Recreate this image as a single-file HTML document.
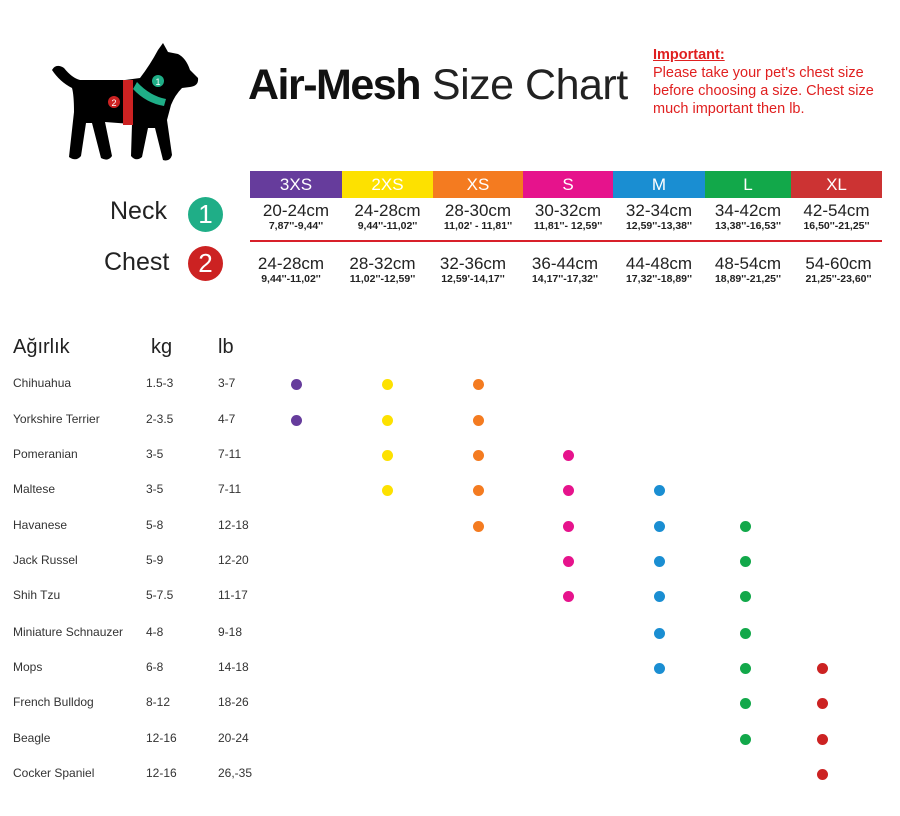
<!DOCTYPE html>
<html><head><meta charset="utf-8"><style>
body{margin:0;width:900px;height:816px;background:#fff;font-family:"Liberation Sans",sans-serif;position:relative;overflow:hidden}
.a{position:absolute;white-space:nowrap}
.h{position:absolute;top:171px;height:27px;color:#fff;font-size:17px;text-align:center;line-height:28px}
.c{position:absolute;text-align:center;color:#222}
.c b{display:block;font-size:17px;font-weight:normal;line-height:18px}
.c i{display:block;font-style:normal;font-weight:bold;font-size:10.5px;line-height:13px}
.r{position:absolute;font-size:12px;color:#333}
.d{position:absolute;width:11px;height:11px;border-radius:50%}
</style></head><body>
<svg class="a" style="left:40px;top:30px" width="170" height="140" viewBox="40 30 170 140">
<path d="M52 70 Q56 63 64 68 Q72 78 80 80 L125 80 L140 78 Q150 65 158 50 L163 43 L168 52 L178 54 Q186 58 190 70 L198 78 Q199 86 190 87 L182 88 Q175 95 171 105 L167 120 L172 155 Q170 162 163 160 L155 128 L148 128 L142 157 Q136 162 131 156 L132 124 L105 122 L112 156 Q108 162 101 158 L92 123 L86 123 L81 156 Q76 162 69 157 L74 112 Q74 95 72 88 Q60 82 52 70Z" fill="#000"/>
<path d="M137 82 Q150 96 166 99 L164 106 Q146 103 133 89Z" fill="#1fae87"/>
<circle cx="158" cy="81" r="6" fill="#1fae87"/><text x="158" y="85" font-size="9" fill="#fff" text-anchor="middle">1</text>
<rect x="123" y="80" width="10" height="45" fill="#cc2222"/>
<circle cx="114" cy="102" r="6" fill="#cc2222"/><text x="114" y="106" font-size="9" fill="#fff" text-anchor="middle">2</text>
</svg>
<div class="a" style="left:248px;top:61px;font-size:43px;color:#111"><span style="font-weight:bold;letter-spacing:-1.5px">Air-Mesh</span> <span style="color:#222;letter-spacing:-0.5px">Size Chart</span></div>
<div class="a" style="left:653px;top:46px;font-size:14.5px;color:#e02020;line-height:18px"><b style="text-decoration:underline">Important:</b><br>Please take your pet's chest size<br>before choosing a size. Chest size<br>much important then lb.</div>
<div class="h" style="left:250px;width:92px;background:#663c9c">3XS</div>
<div class="h" style="left:342px;width:91px;background:#fde100">2XS</div>
<div class="h" style="left:433px;width:90px;background:#f47b20">XS</div>
<div class="h" style="left:523px;width:90px;background:#e6138c">S</div>
<div class="h" style="left:613px;width:92px;background:#1a8ed2">M</div>
<div class="h" style="left:705px;width:86px;background:#12a84a">L</div>
<div class="h" style="left:791px;width:91px;background:#cc3333">XL</div>
<div class="a" style="left:250px;top:240px;width:632px;height:2px;background:#d8202a"></div>
<div class="a" style="left:110px;top:197px;font-size:25px;color:#222">Neck</div>
<div class="a" style="left:188px;top:197px;width:35px;height:35px;border-radius:50%;background:#1fae87;color:#fff;font-size:26px;text-align:center;line-height:35px">1</div>
<div class="a" style="left:104px;top:248px;font-size:25px;color:#222">Chest</div>
<div class="a" style="left:188px;top:246px;width:35px;height:35px;border-radius:50%;background:#cc2222;color:#fff;font-size:26px;text-align:center;line-height:35px">2</div>
<div class="c" style="left:250px;top:202px;width:92px"><b>20-24cm</b><i>7,87''-9,44''</i></div>
<div class="c" style="left:342px;top:202px;width:91px"><b>24-28cm</b><i>9,44''-11,02''</i></div>
<div class="c" style="left:433px;top:202px;width:90px"><b>28-30cm</b><i>11,02' - 11,81''</i></div>
<div class="c" style="left:523px;top:202px;width:90px"><b>30-32cm</b><i>11,81''- 12,59''</i></div>
<div class="c" style="left:613px;top:202px;width:92px"><b>32-34cm</b><i>12,59''-13,38''</i></div>
<div class="c" style="left:705px;top:202px;width:86px"><b>34-42cm</b><i>13,38''-16,53''</i></div>
<div class="c" style="left:791px;top:202px;width:91px"><b>42-54cm</b><i>16,50''-21,25''</i></div>
<div class="c" style="left:245px;top:255px;width:92px"><b>24-28cm</b><i>9,44''-11,02''</i></div>
<div class="c" style="left:337px;top:255px;width:91px"><b>28-32cm</b><i>11,02''-12,59''</i></div>
<div class="c" style="left:428px;top:255px;width:90px"><b>32-36cm</b><i>12,59'-14,17''</i></div>
<div class="c" style="left:520px;top:255px;width:90px"><b>36-44cm</b><i>14,17''-17,32''</i></div>
<div class="c" style="left:613px;top:255px;width:92px"><b>44-48cm</b><i>17,32''-18,89''</i></div>
<div class="c" style="left:705px;top:255px;width:86px"><b>48-54cm</b><i>18,89''-21,25''</i></div>
<div class="c" style="left:793px;top:255px;width:91px"><b>54-60cm</b><i>21,25''-23,60''</i></div>
<div class="a" style="left:13px;top:336px;font-size:20px;color:#222">Ağırlık</div>
<div class="a" style="left:151px;top:336px;font-size:20px;color:#222">kg</div>
<div class="a" style="left:218px;top:336px;font-size:20px;color:#222">lb</div>
<div id="rows"></div>
<script>
var cx=[296,387,478,568,659,745,822],col=['#663c9c','#fde100','#f47b20','#e6138c','#1a8ed2','#12a84a','#cc2222'];
var R=[["Chihuahua","1.5-3"," 3-7",384,[0,1,2]],["Yorkshire Terrier","2-3.5","4-7",420,[0,1,2]],["Pomeranian","3-5","7-11",455,[1,2,3]],["Maltese","3-5","7-11",490,[1,2,3,4]],["Havanese","5-8","12-18",526,[2,3,4,5]],["Jack Russel","5-9","12-20",561,[3,4,5]],["Shih Tzu","5-7.5","11-17",596,[3,4,5]],["Miniature Schnauzer","4-8","9-18",633,[4,5]],["Mops","6-8","14-18",668,[4,5,6]],["French Bulldog","8-12","18-26",703,[5,6]],["Beagle","12-16","20-24",739,[5,6]],["Cocker Spaniel","12-16","26,-35",774,[6]]];
var h='';R.forEach(function(r){var y=r[3];h+='<div class="r" style="left:13px;top:'+(y-8)+'px">'+r[0]+'</div><div class="r" style="left:146px;top:'+(y-8)+'px">'+r[1]+'</div><div class="r" style="left:218px;top:'+(y-8)+'px">'+r[2]+'</div>';r[4].forEach(function(i){h+='<div class="d" style="left:'+(cx[i]-5.5)+'px;top:'+(y-5.5)+'px;background:'+col[i]+'"></div>';});});
document.getElementById('rows').innerHTML=h;
</script>
</body></html>
